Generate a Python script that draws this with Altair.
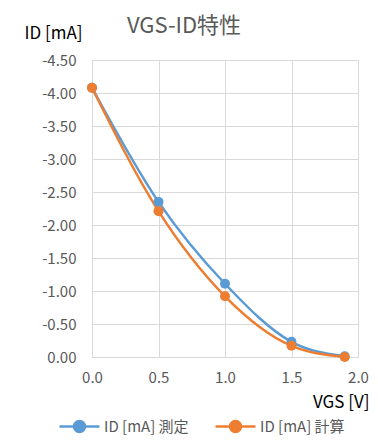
import altair as alt
import pandas as pd

vgs = [0.0, 0.5, 1.0, 1.5, 1.9]
id_measured = [-4.08, -2.35, -1.11, -0.23, -0.01]
id_calc = [-4.08, -2.21, -0.92, -0.17, 0.0]
series = ["ID [mA] 測定", "ID [mA] 計算"]
colors = ["#5B9BD5", "#ED7D31"]

rows = []
for s, vals in zip(series, [id_measured, id_calc]):
    for x, y in zip(vgs, vals):
        rows.append({"VGS": x, "ID": y, "series": s})
df = pd.DataFrame(rows)

FONT = "Noto Sans CJK JP"

x = alt.X("VGS:Q",
          scale=alt.Scale(domain=[0, 2], nice=False),
          axis=alt.Axis(values=[0, 0.5, 1.0, 1.5, 2.0], format=".1f", title="VGS [V]",
                        titleAngle=0, titleAlign="right", titleX=277, titleY=50,
                        titleBaseline="alphabetic", labelPadding=13, labelFlush=False))
y = alt.Y("ID:Q",
          scale=alt.Scale(domain=[-4.5, 0], reverse=True, nice=False),
          axis=alt.Axis(values=[-4.5, -4.0, -3.5, -3.0, -2.5, -2.0, -1.5, -1.0, -0.5, 0.0],
                        labelExpr="(datum.value < 0 ? '-' : '') + format(abs(datum.value), '.2f')",
                        title="ID [mA]", titleAngle=0, titleAlign="left", titleX=-68,
                        titleY=-22, titleBaseline="alphabetic", labelPadding=16,
                        labelFlush=False))
color = alt.Color("series:N", scale=alt.Scale(domain=series, range=colors),
                  legend=alt.Legend(title=None, orient="none", legendX=-24, legendY=355,
                                    direction="horizontal", columnPadding=21, padding=0,
                                    symbolType="M-2,0 L2,0 M-0.55,0 A0.55,0.55 0 1,1 0.55,0 A0.55,0.55 0 1,1 -0.55,0",
                                    symbolSize=400, symbolStrokeWidth=2.5, labelOffset=13,
                                    labelFontSize=15, labelColor="#595959", labelFont=FONT))

base = alt.Chart(df)
lines = base.mark_line(interpolate="monotone", strokeWidth=2.5).encode(x=x, y=y, color=color)
pts = base.mark_point(filled=True, size=100, opacity=1).encode(x=x, y=y, color=color)

chart = alt.layer(lines, pts).properties(
    width=266, height=297,
    title=alt.TitleParams("VGS-ID特性", fontSize=22, color="#595959", font=FONT,
                          fontWeight="normal", frame="group", anchor="middle", dx=-41,
                          offset=0, dy=14),
    autosize=alt.AutoSizeParams(type="none"),
    padding={"left": 84, "top": 52, "right": 12, "bottom": 82},
).configure_axis(
    grid=True, gridColor="#D9D9D9", domainColor="#D9D9D9", ticks=False,
    labelFont=FONT, labelFontSize=15, labelColor="#595959",
    titleFont=FONT, titleFontSize=17, titleColor="#000000", titleFontWeight="normal",
).configure_view(stroke=None)

chart.save("out.html", embed_options={"renderer": "svg", "actions": False})
